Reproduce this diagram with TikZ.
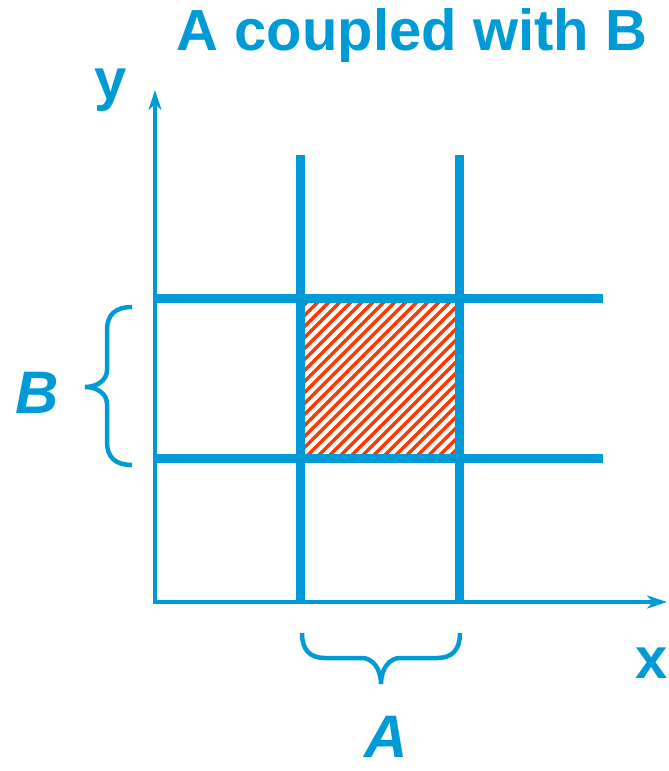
\documentclass[tikz,border=0pt]{standalone}
\usepackage{fontspec}
\setmainfont{Liberation Sans}
\usetikzlibrary{arrows.meta}
\definecolor{axblue}{RGB}{0,155,215}
\definecolor{hatchred}{RGB}{255,55,0}
\tikzset{
  axis/.style={draw=axblue, line width=4.5pt, -{Stealth[length=20pt,width=13pt,inset=6pt]}},
  grid/.style={draw=axblue, line width=9pt},
  bracestyle/.style={draw=axblue, line width=4.5pt},
  lbl/.style={text=axblue, font=\fontsize{58}{62}\selectfont\bfseries, inner sep=0pt},
  biglbl/.style={text=axblue, font=\fontsize{60}{66}\selectfont\bfseries\itshape, inner sep=0pt},
}
\begin{document}
\begin{tikzpicture}[x=1pt,y=-1pt]
\useasboundingbox (0,0) rectangle (669,771);
% hatched square
\begin{scope}
  \clip (300,298) rectangle (459,458);
  \foreach \i in {-176,-165,...,176} {
    \draw[hatchred, line width=3.4pt] (305+\i,458) -- (465+\i,298);
  }
\end{scope}
% coordinates
\coordinate (o) at (155,602);
\coordinate (ytip) at (155,90);
\coordinate (xtip) at (667,602);
\coordinate (v1t) at (300,155);
\coordinate (v1b) at (300,602);
\coordinate (v2t) at (459,155);
\coordinate (v2b) at (459,602);
\coordinate (h1l) at (155,298);
\coordinate (h1r) at (603,298);
\coordinate (h2l) at (155,458);
\coordinate (h2r) at (603,458);
% grid lines
\draw[grid] (v1t) -- (v1b);
\draw[grid] (v2t) -- (v2b);
\draw[grid] (h1l) -- (h1r);
\draw[grid] (h2l) -- (h2r);
% axes
\draw[axis] ([yshift=-2.25pt]o) -- (ytip);
\draw[axis] ([xshift=-2.25pt]o) -- (xtip);
% braces
\draw[bracestyle] (132,307) .. controls (115,307) and (107,315) .. (107,330) -- (107,370)
  .. controls (107,381) and (96,387) .. (85,387)
  .. controls (96,387) and (107,393) .. (107,404) -- (107,442)
  .. controls (107,457) and (115,465) .. (132,465);
\draw[bracestyle] (302,633) .. controls (302,650) and (310,658) .. (325,658) -- (362,658)
  .. controls (372,658) and (381,668) .. (381,684)
  .. controls (381,668) and (390,658) .. (400,658) -- (437,658)
  .. controls (452,658) and (460,650) .. (460,633);
% labels
\node[lbl] (title) at (412,36) {A coupled with B};
\node[lbl] (ylbl) at (111,90) {y};
\node[lbl] (xlbl) at (652,663) {x};
\node[biglbl] (blbl) at (37,393) {B};
\node[biglbl] (albl) at (386,737) {A};
\end{tikzpicture}
\end{document}
